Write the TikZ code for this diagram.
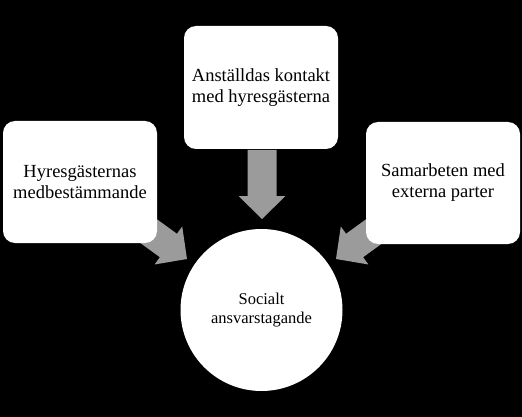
\documentclass[tikz,border=0pt]{standalone}
\usepackage{fontspec}
\setmainfont{Liberation Serif}
\definecolor{arrowgray}{RGB}{155,155,155}
\tikzset{
  box/.style={draw=none, fill=white, rounded corners=12pt, minimum width=154pt, minimum height=122pt, inner sep=0pt, align=center, font=\fontsize{18.5}{21}\selectfont},
  hub/.style={circle, draw=none, fill=white, minimum size=162pt, inner sep=0pt, align=center, font=\fontsize{16.5}{18.5}\selectfont},
  blockarrow/.pic={\fill[arrowgray] (-69,14.5) -- (-23,14.5) -- (-23,23.5) -- (0,0) -- (-23,-23.5) -- (-23,-14.5) -- (-69,-14.5) -- cycle;}
}
\begin{document}
\begin{tikzpicture}[x=1pt,y=1pt]
\fill[black] (0,0) rectangle (522,-417);
\useasboundingbox (0,0) rectangle (522,-417);
\coordinate (tipTop) at (262,-219);
\coordinate (tipLeft) at (187,-259);
\coordinate (tipRight) at (336,-259);
\pic[rotate=-90] at (tipTop) {blockarrow};
\pic[rotate=-36] at (tipLeft) {blockarrow};
\pic[rotate=-144] at (tipRight) {blockarrow};
\node[box] (left) at (80,-182) {Hyresgästernas\\medbestämmande};
\node[box, minimum height=123pt] (top) at (261,-87.5) {Anställdas kontakt\\med hyresgästerna};
\node[box] (right) at (443,-183) {Samarbeten med\\externa parter};
\node[hub] (hub) at (261.5,-310) {Socialt\\ansvarstagande};
\end{tikzpicture}
\end{document}
